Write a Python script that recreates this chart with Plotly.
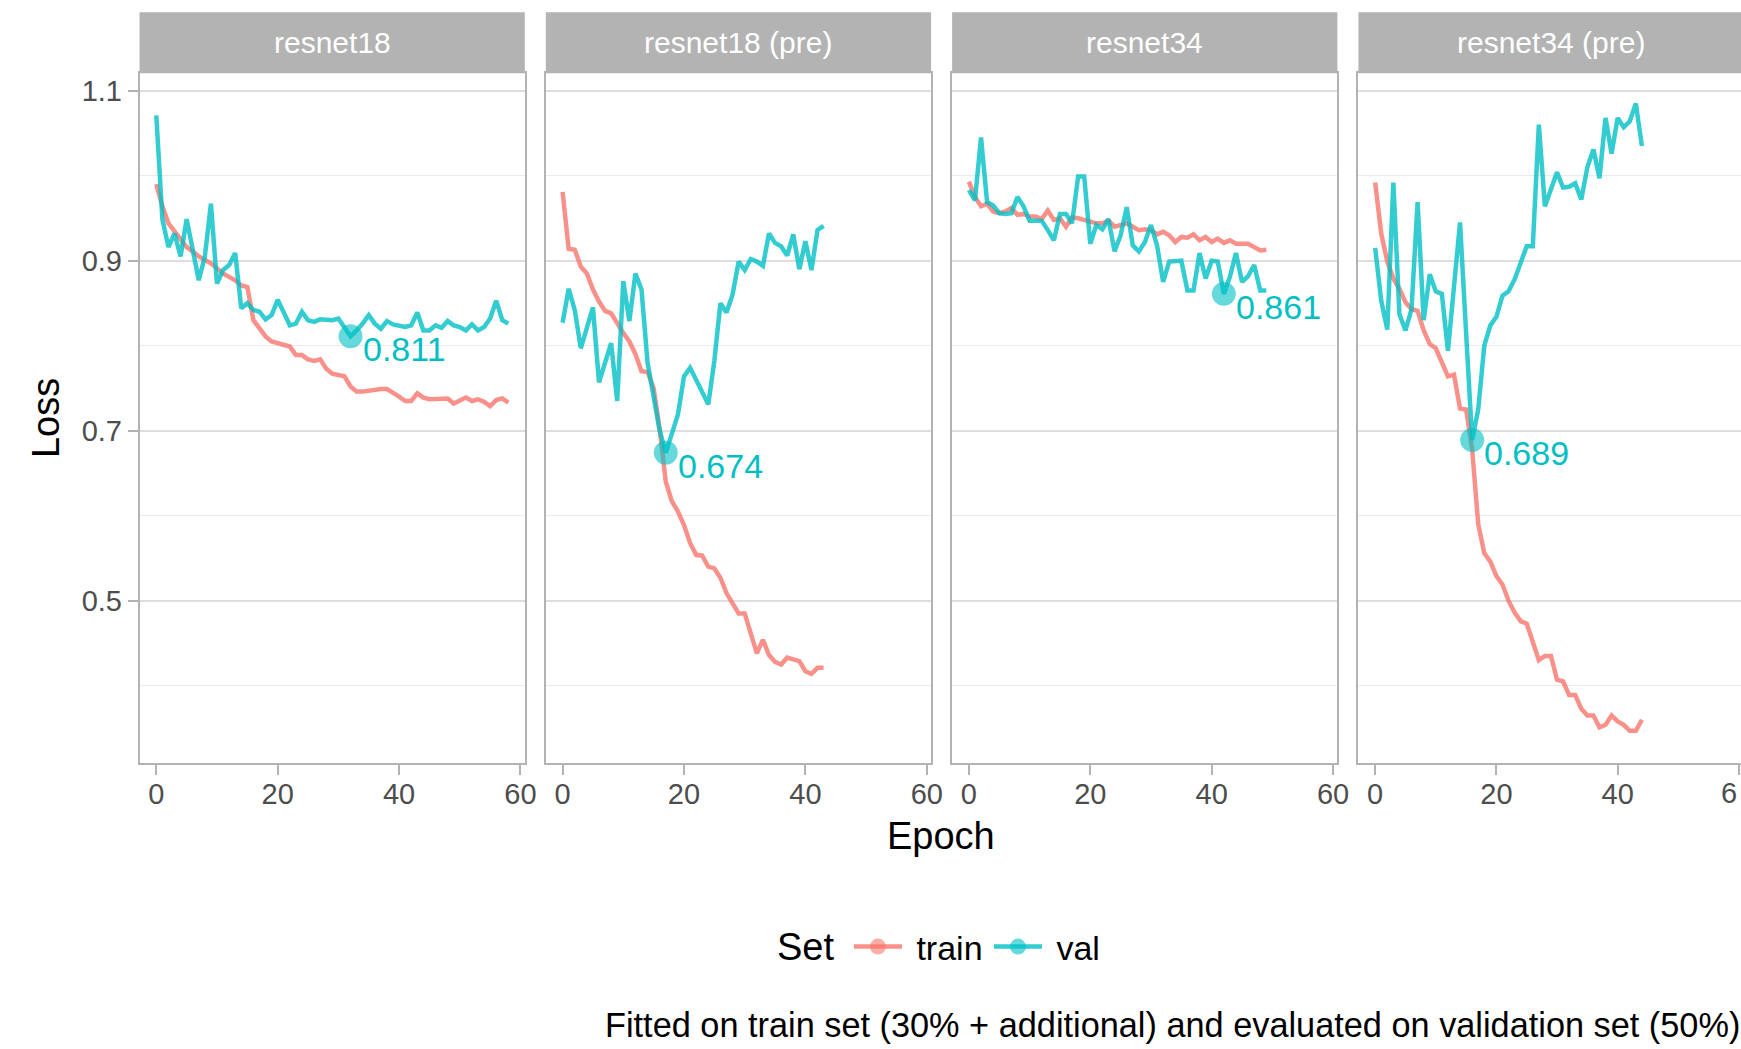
import plotly.graph_objects as go

# ---------------- data ----------------
panels = ["resnet18", "resnet18 (pre)", "resnet34", "resnet34 (pre)"]

resnet18_train = [0.990, 0.964, 0.944, 0.934, 0.924, 0.916, 0.911, 0.905, 0.901, 0.897,
                  0.891, 0.885, 0.881, 0.877, 0.871, 0.869, 0.830, 0.820, 0.811, 0.805,
                  0.803, 0.801, 0.799, 0.789, 0.789, 0.784, 0.782, 0.784, 0.773, 0.767,
                  0.765, 0.764, 0.752, 0.746, 0.746, 0.747, 0.749, 0.749, 0.749, 0.745,
                  0.740, 0.735, 0.735, 0.744, 0.739, 0.737, 0.737, 0.737, 0.738, 0.732,
                  0.736, 0.739, 0.735, 0.737, 0.734, 0.729, 0.736, 0.738, 0.733]
resnet18_val = [1.071, 0.949, 0.916, 0.932, 0.905, 0.949, 0.913, 0.877, 0.905, 0.967,
                0.873, 0.889, 0.895, 0.909, 0.844, 0.850, 0.842, 0.840, 0.831, 0.836,
                0.854, 0.838, 0.824, 0.826, 0.840, 0.830, 0.828, 0.831, 0.831, 0.830,
                0.832, 0.822, 0.811, 0.818, 0.826, 0.836, 0.826, 0.820, 0.829, 0.825,
                0.824, 0.822, 0.824, 0.839, 0.818, 0.818, 0.824, 0.821, 0.829, 0.824,
                0.822, 0.818, 0.825, 0.818, 0.822, 0.832, 0.853, 0.830, 0.826]

resnet18pre_train = [0.981, 0.914, 0.913, 0.893, 0.885, 0.866, 0.852, 0.841, 0.838, 0.826,
                     0.815, 0.805, 0.790, 0.770, 0.769, 0.750, 0.701, 0.640, 0.617, 0.605,
                     0.589, 0.568, 0.554, 0.553, 0.540, 0.538, 0.527, 0.509, 0.496, 0.485,
                     0.485, 0.462, 0.438, 0.454, 0.436, 0.428, 0.425, 0.433, 0.431, 0.429,
                     0.417, 0.414, 0.421, 0.421]
resnet18pre_val = [0.827, 0.867, 0.842, 0.797, 0.821, 0.845, 0.757, 0.782, 0.803, 0.735,
                   0.876, 0.829, 0.885, 0.866, 0.780, 0.740, 0.700, 0.674, 0.697, 0.719,
                   0.764, 0.774, 0.760, 0.744, 0.731, 0.782, 0.850, 0.839, 0.860, 0.899,
                   0.889, 0.902, 0.899, 0.894, 0.932, 0.921, 0.917, 0.906, 0.931, 0.890,
                   0.923, 0.889, 0.936, 0.941]

resnet34_train = [0.993, 0.975, 0.964, 0.967, 0.958, 0.956, 0.958, 0.962, 0.954, 0.955,
                  0.952, 0.952, 0.949, 0.959, 0.948, 0.950, 0.940, 0.951, 0.950, 0.948,
                  0.946, 0.944, 0.944, 0.947, 0.940, 0.942, 0.944, 0.940, 0.936, 0.937,
                  0.936, 0.931, 0.934, 0.930, 0.922, 0.928, 0.927, 0.931, 0.924, 0.928,
                  0.922, 0.926, 0.921, 0.924, 0.920, 0.920, 0.920, 0.916, 0.912, 0.913]
resnet34_val = [0.983, 0.971, 1.045, 0.969, 0.965, 0.956, 0.955, 0.956, 0.975, 0.964,
                0.947, 0.947, 0.947, 0.936, 0.924, 0.955, 0.955, 0.944, 0.999, 0.999,
                0.920, 0.942, 0.937, 0.949, 0.911, 0.930, 0.963, 0.918, 0.911, 0.922,
                0.942, 0.918, 0.875, 0.899, 0.900, 0.900, 0.865, 0.865, 0.909, 0.879,
                0.900, 0.899, 0.861, 0.881, 0.909, 0.875, 0.882, 0.895, 0.865, 0.865]

resnet34pre_train = [0.992, 0.932, 0.899, 0.879, 0.867, 0.851, 0.843, 0.841, 0.818, 0.802,
                     0.797, 0.782, 0.764, 0.766, 0.726, 0.725, 0.678, 0.590, 0.556, 0.546,
                     0.529, 0.519, 0.500, 0.486, 0.476, 0.473, 0.451, 0.430, 0.435, 0.435,
                     0.407, 0.405, 0.389, 0.389, 0.373, 0.365, 0.365, 0.351, 0.354, 0.365,
                     0.358, 0.354, 0.347, 0.347, 0.360]
resnet34pre_val = [0.915, 0.853, 0.819, 0.992, 0.837, 0.818, 0.843, 0.969, 0.830, 0.884,
                   0.864, 0.861, 0.794, 0.870, 0.945, 0.815, 0.689, 0.725, 0.800, 0.824,
                   0.834, 0.859, 0.864, 0.878, 0.897, 0.917, 0.917, 1.060, 0.964, 0.986,
                   1.004, 0.986, 0.987, 0.991, 0.972, 1.010, 1.031, 0.997, 1.068, 1.026,
                   1.068, 1.057, 1.064, 1.085, 1.035]

train_series = [resnet18_train, resnet18pre_train, resnet34_train, resnet34pre_train]
val_series = [resnet18_val, resnet18pre_val, resnet34_val, resnet34pre_val]

x_ticks = [0, 20, 40, 60]
x_ticktext = ["0", "20", "40", "60"]
y_ticks = [0.5, 0.7, 0.9, 1.1]

# ---------------- style / geometry ----------------
REF_W, H = 1741, 1049
W = 1756          # the page is captured ~15px wider than the window and shrunk back


def px(x):
    return x / REF_W


def py(y):
    return 1 - y / H


FONT = "Liberation Sans, Arial, sans-serif"
TRAIN_LINE = "rgba(248,118,109,0.8)"
VAL_LINE = "rgba(0,191,196,0.8)"
VAL_DOT = "rgba(0,191,196,0.6)"
VAL_TXT = "#00BFC4"
GREY70 = "#B3B3B3"
TICK_TXT = "#4D4D4D"
LW = 4.5

panel_left0 = 139.3
panel_step = 405.6
panel_w = 384.6
panel_top, panel_bot = 73.3, 762.8
strip_top = 12.3
xlabel_y = 793.0

X_RANGE = [-2.76, 60.71]
Y_RANGE = [0.3093, 1.1205]

fig = go.Figure()
layout = dict(
    width=W, height=H, autosize=False,
    margin=dict(l=0, r=0, t=0, b=0),
    paper_bgcolor="white", plot_bgcolor="white",
    font=dict(family=FONT, color="black"),
    showlegend=True,
)
annotations = []
shapes = []

for i, name in enumerate(panels):
    k = "" if i == 0 else str(i + 1)
    last = i == len(panels) - 1
    left = panel_left0 + i * panel_step
    right = min(left + panel_w, REF_W - 0.8)
    tr = train_series[i]
    va = val_series[i]
    ep_t = list(range(len(tr)))
    ep_v = list(range(len(va)))
    fig.add_trace(go.Scatter(x=ep_t, y=tr, mode="lines", line=dict(color=TRAIN_LINE, width=LW),
                             xaxis="x" + k, yaxis="y" + k, showlegend=False, hoverinfo="skip"))
    fig.add_trace(go.Scatter(x=ep_v, y=va, mode="lines", line=dict(color=VAL_LINE, width=LW),
                             xaxis="x" + k, yaxis="y" + k, showlegend=False, hoverinfo="skip"))
    # best validation epoch
    best = min(range(len(va)), key=lambda j: va[j])
    fig.add_trace(go.Scatter(x=[ep_v[best]], y=[va[best]], mode="markers",
                             marker=dict(size=24, color=VAL_DOT, line=dict(width=0)),
                             xaxis="x" + k, yaxis="y" + k, showlegend=False, hoverinfo="skip"))
    annotations.append(dict(x=ep_v[best], y=va[best], xref="x" + k, yref="y" + k,
                            text=f"{va[best]:.3f}", showarrow=False, xanchor="left", yanchor="top",
                            xshift=10, yshift=8, font=dict(size=34, color=VAL_TXT, family=FONT)))

    # the right-most "60" is cut by the picture edge in the original: only its "6" shows
    ticktext = x_ticktext[:-1] + [""] if last else x_ticktext
    layout["xaxis" + k] = dict(
        domain=[px(left), px(right)], range=X_RANGE, anchor="y" + k,
        tickvals=x_ticks, ticktext=ticktext, ticks="outside", ticklen=10, tickwidth=1.5, tickcolor=GREY70,
        tickfont=dict(size=29, color=TICK_TXT, family=FONT), ticklabelstandoff=-5,
        showgrid=False, zeroline=False, showline=True, mirror=True,
        linecolor=GREY70, linewidth=1.5,
    )
    if last:
        annotations.append(dict(x=x_ticks[-1], xref="x" + k, y=py(xlabel_y), yref="paper",
                                text=x_ticktext[-1][0], showarrow=False, xanchor="right", yanchor="middle",
                                font=dict(size=29, color=TICK_TXT, family=FONT)))
    layout["yaxis" + k] = dict(
        domain=[py(panel_bot), py(panel_top)], range=Y_RANGE, anchor="x" + k,
        tickvals=y_ticks, showticklabels=(i == 0),
        ticks="outside" if i == 0 else "", ticklen=10, tickwidth=1.5, tickcolor=GREY70,
        tickfont=dict(size=29, color=TICK_TXT, family=FONT), ticklabelstandoff=0,
        showgrid=True, gridcolor="#DEDEDE", gridwidth=1.5,
        minor=dict(tickvals=[0.4, 0.6, 0.8, 1.0], showgrid=True, gridcolor="#EBEBEB", gridwidth=1, ticks=""),
        zeroline=False, showline=True, mirror=True, linecolor=GREY70, linewidth=1.5,
    )
    # facet strip
    shapes.append(dict(type="rect", xref="paper", yref="paper",
                       x0=px(left), x1=px(right), y0=py(panel_top), y1=py(strip_top),
                       fillcolor=GREY70, line=dict(width=0), layer="below"))
    annotations.append(dict(x=px((left + right) / 2), y=py((panel_top + strip_top) / 2),
                            xref="paper", yref="paper", text=name, showarrow=False,
                            xanchor="center", yanchor="middle",
                            font=dict(size=30, color="white", family=FONT)))

# legend-only traces
fig.add_trace(go.Scatter(x=[None], y=[None], mode="lines+markers", name=" train",
                         line=dict(color=TRAIN_LINE, width=LW),
                         marker=dict(size=24, color="rgba(248,118,109,0.6)")))
fig.add_trace(go.Scatter(x=[None], y=[None], mode="lines+markers", name=" val",
                         line=dict(color=VAL_LINE, width=LW),
                         marker=dict(size=24, color=VAL_DOT)))

# axis titles, legend title and caption
annotations.append(dict(x=px(939), y=py(836), xref="paper", yref="paper", text="Epoch",
                        showarrow=False, xanchor="center", yanchor="middle",
                        font=dict(size=38, color="black", family=FONT)))
annotations.append(dict(x=px(46), y=py(418), xref="paper", yref="paper", text="Loss",
                        showarrow=False, xanchor="center", yanchor="middle", textangle=-90,
                        font=dict(size=38, color="black", family=FONT)))
annotations.append(dict(x=px(774), y=py(947), xref="paper", yref="paper", text="Set",
                        showarrow=False, xanchor="left", yanchor="middle",
                        font=dict(size=38, color="black", family=FONT)))
annotations.append(dict(x=px(1739), y=py(1025), xref="paper", yref="paper",
                        text="Fitted on train set (30% + additional) and evaluated on validation set (50%)",
                        showarrow=False, xanchor="right", yanchor="middle",
                        font=dict(size=34.3, color="black", family=FONT)))

layout["annotations"] = annotations
layout["shapes"] = shapes
layout["legend"] = dict(orientation="h", x=px(847.5), xanchor="left", y=py(947), yanchor="middle",
                        font=dict(size=34, color="black", family=FONT), bgcolor="rgba(0,0,0,0)",
                        itemwidth=48, entrywidth=77, entrywidthmode="pixels")
fig.update_layout(**layout)

page_js = (
    "document.documentElement.style.overflow='hidden';"
    "document.body.style.margin='0';"
    "document.body.style.overflow='hidden';"
)
fig.write_html(
    "out.html",
    config={"displayModeBar": False, "responsive": False},
    post_script=page_js,
)
